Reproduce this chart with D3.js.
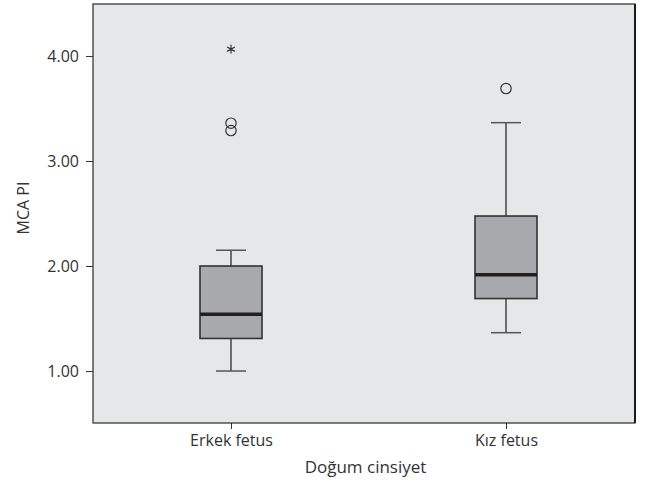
<!DOCTYPE html>
<html>
<head>
<meta charset="utf-8">
<script src="https://cdn.jsdelivr.net/npm/d3@7"></script>
<style>
  body { margin: 0; background: #fff; }
  text { font-family: "Open Sans", "Noto Sans", sans-serif; fill: #333; }
</style>
</head>
<body>
<svg id="chart" width="646" height="486"></svg>
<script>
// values
const groups = ["Erkek fetus", "Kız fetus"];
const whiskerLow = [1.00, 1.365];
const q1 = [1.31, 1.69];
const median = [1.54, 1.917];
const q3 = [2.00, 2.476];
const whiskerHigh = [2.15, 3.365];
// outliers (o) and extremes (*)
const outlierGroup = ["Erkek fetus", "Erkek fetus", "Kız fetus"];
const outlierValue = [3.36, 3.29, 3.69];
const extremeGroup = ["Erkek fetus"];
const extremeValue = [4.065];
const yTicks = [1, 2, 3, 4];

const margin = {top: 4, right: 11, bottom: 63, left: 93};
const svg = d3.select("#chart");
const width = +svg.attr("width") - margin.left - margin.right;
const height = +svg.attr("height") - margin.top - margin.bottom;

const g = svg.append("g")
  .attr("transform", "translate(" + margin.left + "," + margin.top + ")");

const y = d3.scaleLinear().domain([0.505, 4.495]).range([height, 0]);
const x = d3.scalePoint().domain(groups).range([138, 413]);

const boxHalf = 31;
const capHalf = 15;

// plot background
g.append("rect")
  .attr("width", width)
  .attr("height", height)
  .attr("fill", "#e6e7e8");

// y axis
const yAxis = g.append("g")
  .call(d3.axisLeft(y).tickValues(yTicks).tickFormat(d3.format(".2f")).tickSize(7).tickPadding(7));
yAxis.select(".domain").remove();
yAxis.selectAll(".tick line").attr("stroke", "#333");
yAxis.selectAll(".tick text")
  .style("font-size", "16px")
  .style("font-family", "'Open Sans', sans-serif")
  .attr("fill", "#333");

// x axis
const xAxis = g.append("g")
  .attr("transform", "translate(0," + height + ")")
  .call(d3.axisBottom(x).tickSize(6).tickPadding(6));
xAxis.select(".domain").remove();
xAxis.selectAll(".tick line").attr("stroke", "#333");
xAxis.selectAll(".tick text")
  .style("font-size", "16px")
  .style("font-family", "'Open Sans', sans-serif")
  .attr("fill", "#333");

// boxes
const rows = groups.map((d, i) => ({
  g: d, lo: whiskerLow[i], q1: q1[i], med: median[i], q3: q3[i], hi: whiskerHigh[i]
}));

const box = g.selectAll(".box").data(rows).enter().append("g").attr("class", "box");

box.append("line")
  .attr("x1", d => x(d.g)).attr("x2", d => x(d.g))
  .attr("y1", d => y(d.hi)).attr("y2", d => y(d.q3))
  .attr("stroke", "#444").attr("stroke-width", 1.5);
box.append("line")
  .attr("x1", d => x(d.g)).attr("x2", d => x(d.g))
  .attr("y1", d => y(d.q1)).attr("y2", d => y(d.lo))
  .attr("stroke", "#444").attr("stroke-width", 1.5);
box.append("line")
  .attr("x1", d => x(d.g) - capHalf).attr("x2", d => x(d.g) + capHalf)
  .attr("y1", d => y(d.hi)).attr("y2", d => y(d.hi))
  .attr("stroke", "#555").attr("stroke-width", 1.5);
box.append("line")
  .attr("x1", d => x(d.g) - capHalf).attr("x2", d => x(d.g) + capHalf)
  .attr("y1", d => y(d.lo)).attr("y2", d => y(d.lo))
  .attr("stroke", "#555").attr("stroke-width", 1.5);

box.append("rect")
  .attr("x", d => x(d.g) - boxHalf)
  .attr("width", boxHalf * 2)
  .attr("y", d => y(d.q3))
  .attr("height", d => y(d.q1) - y(d.q3))
  .attr("fill", "#a8a9ac")
  .attr("stroke", "#333")
  .attr("stroke-width", 1.6);

box.append("line")
  .attr("x1", d => x(d.g) - boxHalf).attr("x2", d => x(d.g) + boxHalf)
  .attr("y1", d => y(d.med)).attr("y2", d => y(d.med))
  .attr("stroke", "#231f20").attr("stroke-width", 3.5);

// outliers
g.selectAll(".outlier")
  .data(outlierValue)
  .enter().append("ellipse")
  .attr("class", "outlier")
  .attr("cx", (d, i) => x(outlierGroup[i]))
  .attr("cy", d => y(d))
  .attr("rx", 5.2).attr("ry", 5.2)
  .attr("fill", "none")
  .attr("stroke", "#333")
  .attr("stroke-width", 1.2);

// extremes
g.selectAll(".extreme")
  .data(extremeValue)
  .enter().append("path")
  .attr("class", "extreme")
  .attr("transform", (d, i) => "translate(" + x(extremeGroup[i]) + "," + y(d) + ")")
  .attr("d", d3.symbol(d3.symbolAsterisk, 55))
  .attr("fill", "none")
  .attr("stroke", "#333")
  .attr("stroke-width", 1.2);

// frame
g.append("rect")
  .attr("width", width)
  .attr("height", height)
  .attr("fill", "none")
  .attr("stroke", "#2a2a2a")
  .attr("stroke-width", 1.2);
g.append("line")
  .attr("x1", width).attr("x2", width)
  .attr("y1", 0).attr("y2", height)
  .attr("stroke", "#1a1a1a").attr("stroke-width", 2);

// axis titles
svg.append("text")
  .attr("x", margin.left + x(groups[0]) + (x(groups[1]) - x(groups[0])) / 2 - 3)
  .attr("y", 473)
  .attr("text-anchor", "middle")
  .style("font-size", "17px")
  .text("Doğum cinsiyet");

svg.append("text")
  .attr("transform", "translate(29," + (margin.top + 204) + ") rotate(-90)")
  .attr("text-anchor", "middle")
  .style("font-size", "16px")
  .text("MCA PI");
</script>
</body>
</html>
